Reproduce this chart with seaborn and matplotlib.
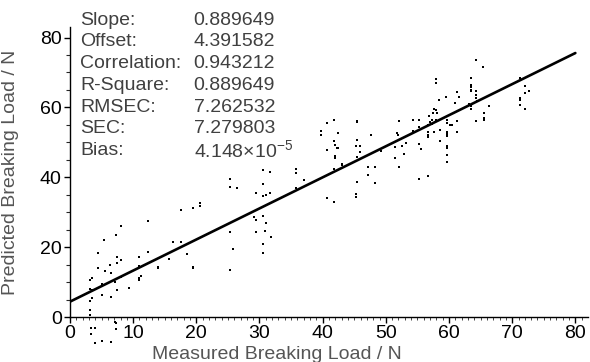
import matplotlib
matplotlib.use("Agg")
import matplotlib.pyplot as plt
import numpy as np
import pandas as pd
import seaborn as sns

# measured vs predicted breaking load
measured = [
    3.2, 3.2, 3.2, 3.5, 5.1, 6.5, 3.2, 3.5, 7.5, 9.3, 5.1, 3.5, 3.2, 7.1, 8.0, 11.2, 11.0, 11.0,
    4.4, 5.5, 6.5, 6.4, 10.9, 13.9, 7.5, 8.0, 7.5, 10.9, 4.4, 12.4, 5.4, 7.3, 8.0, 12.4, 15.6,
    7.1, 7.3, 7.3, 3.4, 3.9, 3.4, 4.0, 5.1, 6.5,
    14.0, 16.3, 17.6, 17.6, 18.5, 19.5, 19.5, 19.5, 20.6, 20.6, 25.4, 25.4, 26.5, 25.4, 25.8, 25.4,
    29.5, 30.5, 30.5, 31.7, 30.5, 31.1, 31.7, 29.1, 29.5, 30.5, 31.1, 29.5, 30.8, 31.8, 30.5, 30.5,
    35.8, 35.8, 37.1, 35.8, 39.7, 39.7, 40.7, 41.8, 41.8, 42.0, 42.3, 42.5, 40.7, 41.9, 42.0, 43.0,
    43.0, 41.8, 40.7, 41.8, 42.5, 45.5, 45.5, 45.5, 45.2, 45.9, 45.9, 45.4, 47.7, 49.3, 47.1, 48.3,
    47.1, 45.5, 48.3, 45.3, 45.3,
    51.7, 51.9, 52.1, 54.3, 55.3, 54.3, 53.2, 52.5, 55.3, 55.6, 51.5, 52.9, 51.5, 52.1, 55.3, 55.3, 56.7,
    57.3, 57.0, 57.3, 58.0, 59.7, 59.7, 61.2, 60.2, 60.5, 56.7, 57.6, 56.6, 56.6, 56.6, 58.6, 59.7,
    59.7, 59.7, 61.2, 58.5, 59.7, 59.7, 59.7, 59.7, 56.8, 57.4, 58.0, 58.4, 59.5, 61.0, 61.2, 61.6,
    58.0, 58.0, 63.5, 63.5, 63.5, 63.5, 63.5, 64.2, 64.2, 64.2, 64.5, 63.1, 63.5, 66.3, 63.5, 65.6,
    65.5, 65.5, 64.2, 64.2, 65.4, 57.6, 58.1,
    71.3, 72.0, 72.0, 72.7, 71.3, 71.3, 71.3, 72.0,
]
predicted = [
    0.6, 2.0, 4.7, 5.3, 6.2, 5.8, 7.9, 7.7, 7.6, 8.3, 9.4, 11.3, 10.6, 10.0, 11.5, 11.8, 11.1, 10.6,
    13.9, 13.1, 12.6, 14.8, 14.7, 14.2, 15.4, 16.4, 17.3, 17.3, 18.2, 18.5, 22.0, 23.4, 26.1, 27.6, 16.7,
    -1.5, -1.7, -3.4, -3.2, -3.2, -4.9, -7.5, -6.9, -7.2,
    14.1, 21.5, 21.6, 30.5, 18.0, 31.3, 14.4, 13.9, 32.5, 31.8, 39.6, 37.1, 36.9, 24.3, 19.6, 13.4,
    35.6, 38.0, 42.0, 41.5, 34.7, 34.8, 35.5, 28.5, 27.7, 28.9, 26.9, 24.2, 24.6, 22.9, 20.8, 18.2,
    42.3, 41.1, 39.2, 36.9, 53.3, 52.2, 55.6, 56.5, 50.4, 49.1, 48.5, 52.8, 47.7, 46.0, 45.5, 43.9,
    43.4, 42.5, 34.1, 32.9, 48.3, 56.1, 55.8, 50.6, 48.9, 48.9, 47.1, 45.8, 52.2, 47.5, 42.9, 42.9,
    40.6, 38.7, 38.5, 35.1, 34.3,
    52.8, 52.2, 56.0, 56.3, 56.3, 53.1, 49.9, 48.9, 49.6, 48.1, 48.6, 46.7, 45.5, 42.9, 39.4, 54.4, 40.5,
    56.5, 55.8, 55.3, 56.3, 56.3, 55.5, 56.1, 54.9, 55.1, 55.1, 53.0, 52.9, 52.1, 51.4, 53.4, 53.0,
    52.3, 51.7, 52.9, 50.4, 49.0, 48.4, 46.4, 44.5, 57.4, 58.4, 59.3, 62.2, 63.1, 61.4, 64.5, 62.9,
    68.1, 67.1, 68.5, 66.4, 65.8, 65.1, 64.6, 64.7, 63.5, 62.8, 61.8, 61.0, 60.5, 60.3, 59.6, 58.5,
    56.9, 56.3, 56.1, 73.6, 71.5, 59.5, 58.3,
    68.3, 66.2, 64.1, 64.6, 62.7, 62.0, 60.8, 59.5,
]

# fitted line end points (offset 4.39, slope 0.8896)
fit_x = [0, 80]
fit_y = [4.39, 75.56]

stat_names = ["Slope:", "Offset:", "Correlation:", "R-Square:", "RMSEC:", "SEC:", "Bias:"]
stat_values = ["0.889649", "4.391582", "0.943212", "0.889649", "7.262532", "7.279803",
               "4.148×10$^{-5}$"]

df = pd.DataFrame({"measured": measured, "predicted": predicted})

sns.set_style("ticks")
plt.rcParams["font.family"] = ["Liberation Sans", "DejaVu Sans"]
plt.rcParams["mathtext.default"] = "regular"

fig = plt.figure(figsize=(5.9, 3.62), dpi=100)
ax = fig.add_axes([0.1186, 0.1243, 0.878, 0.801])

sns.lineplot(x=fit_x, y=fit_y, ax=ax, color="black", linewidth=1.9)
sns.scatterplot(data=df, x="measured", y="predicted", ax=ax, color="black",
                marker="s", s=3.5, linewidth=0)
for c in ax.collections:
    c.set_clip_on(False)

ax.set_xlim(0, 82)
ax.set_ylim(0, 83)
ax.set_xticks(np.arange(0, 81, 10))
ax.set_yticks([0, 20, 40, 60, 80])
ax.set_xticks(np.arange(0, 82, 1), minor=True)
ax.set_yticks(np.arange(0, 83, 5), minor=True)
ax.tick_params(axis="both", which="major", labelsize=14, length=4, width=1,
               color="black", labelcolor="black", pad=2)
ax.tick_params(axis="x", which="minor", length=2, width=0.6)
ax.tick_params(axis="y", which="minor", length=3, width=0.8)
sns.despine(ax=ax)
for sp in ["left", "bottom"]:
    ax.spines[sp].set_linewidth(1)
    ax.spines[sp].set_color("black")

ax.set_xlabel("Measured Breaking Load / N", fontsize=14, color="#555555")
ax.set_ylabel("Predicted Breaking Load / N", fontsize=14, color="#555555")
ax.xaxis.set_label_coords(0.40, -0.1)
ax.yaxis.set_label_coords(-0.099, 0.5)

# statistics block in the top left corner
for i, (name, val) in enumerate(zip(stat_names, stat_values)):
    ypos = 0.944 - i * 0.06
    fig.text(0.136, ypos, name, fontsize=14, color="#404040", va="center")
    fig.text(0.328, ypos, val, fontsize=14, color="#404040", va="center")

fig.savefig("out.png", dpi=100)
